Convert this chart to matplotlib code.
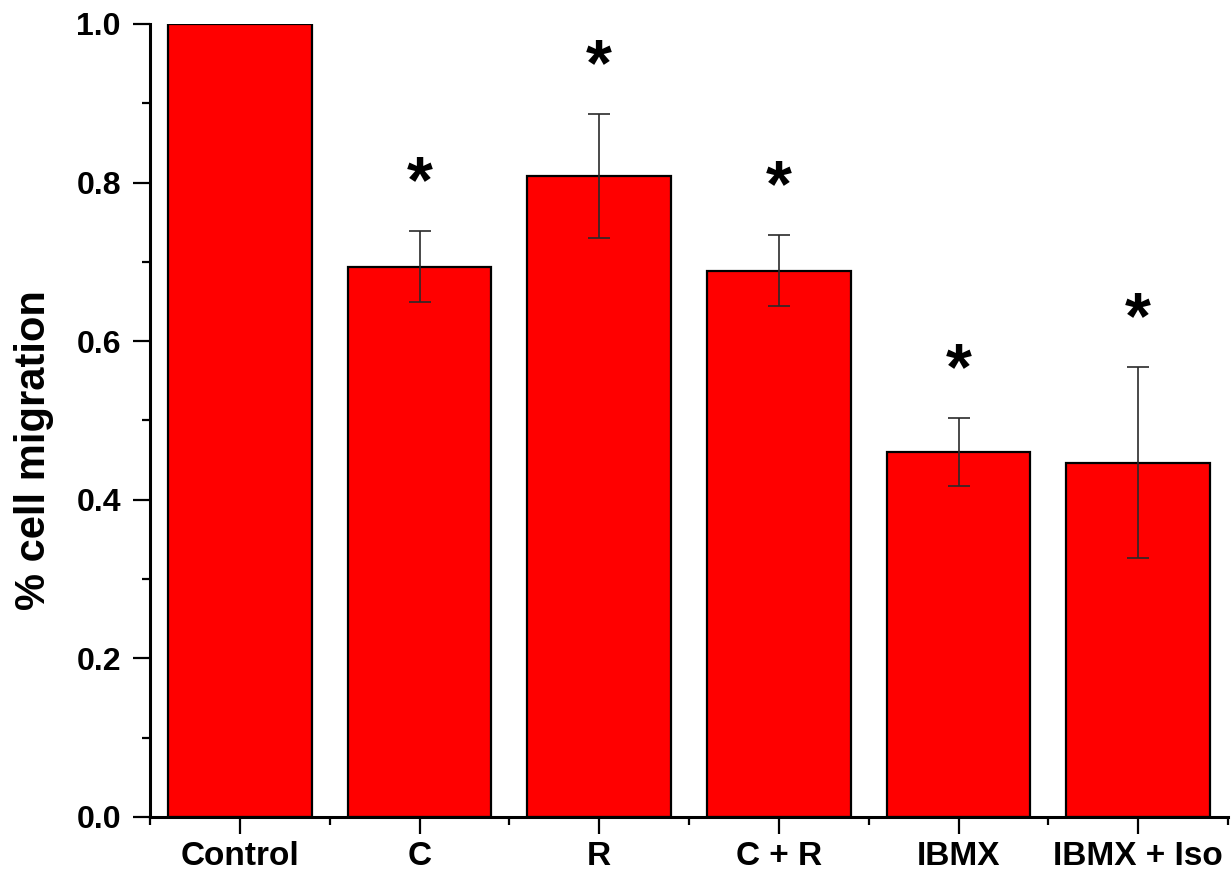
import matplotlib
matplotlib.use('Agg')
import matplotlib.pyplot as plt
from matplotlib.ticker import MultipleLocator, FixedLocator
import numpy as np

plt.rcParams['font.family'] = ['Liberation Sans', 'DejaVu Sans']
plt.rcParams['font.weight'] = 'bold'

groups = ['Control', 'C', 'R', 'C + R', 'IBMX', 'IBMX + Iso']
migration = [1.0, 0.694, 0.808, 0.689, 0.460, 0.447]
sem = [0.0, 0.045, 0.078, 0.045, 0.043, 0.120]
significant = [False, True, True, True, True, True]

fig = plt.figure(figsize=(12.32, 8.75), dpi=100)
ax = fig.add_axes([0.1218, 0.0663, 0.875, 0.9063])

x = np.arange(len(groups))
ax.bar(x, migration, width=0.8, color='#ff0000', edgecolor='black', linewidth=1.6, zorder=2)
has_err = np.array(sem) > 0
ax.errorbar(x[has_err], np.array(migration)[has_err], yerr=np.array(sem)[has_err],
            fmt='none', ecolor='#2a2a2a', elinewidth=1.2, capsize=8, capthick=1.2, zorder=3)

# significance markers above the error bars
for xi, m, e, s in zip(x, migration, sem, significant):
    if s:
        ax.text(xi, m + e + 0.058, '*', ha='center', va='center', fontsize=48,
                fontweight='bold', zorder=4)

ax.set_xlim(-0.5, len(groups) - 0.5)
ax.set_ylim(0, 1.0)

ax.spines['top'].set_visible(False)
ax.spines['right'].set_visible(False)
ax.spines['left'].set_linewidth(2.2)
ax.spines['bottom'].set_linewidth(2.2)

ax.set_xticks(x)
ax.set_xticklabels(groups)
ax.xaxis.set_minor_locator(FixedLocator(np.arange(-0.5, len(groups), 1.0)))
ax.yaxis.set_major_locator(MultipleLocator(0.2))
ax.yaxis.set_minor_locator(MultipleLocator(0.1))
ax.yaxis.set_major_formatter(matplotlib.ticker.FormatStrFormatter('%.1f'))

ax.tick_params(axis='both', which='major', direction='out', length=12, width=1.6)
ax.tick_params(axis='both', which='minor', direction='out', length=6, width=1.6)
ax.tick_params(axis='x', which='major', pad=5, labelsize=24)
ax.tick_params(axis='y', which='major', pad=9, labelsize=23)
for lbl in ax.get_xticklabels() + ax.get_yticklabels():
    lbl.set_fontweight('bold')

fig.text(34 / 1232, 1 - 450 / 875, '% cell migration', rotation=90, ha='center', va='center',
         fontsize=30, fontweight='bold', family=['Liberation Sans Narrow', 'Liberation Sans'])

fig.savefig('out.png', dpi=100)
